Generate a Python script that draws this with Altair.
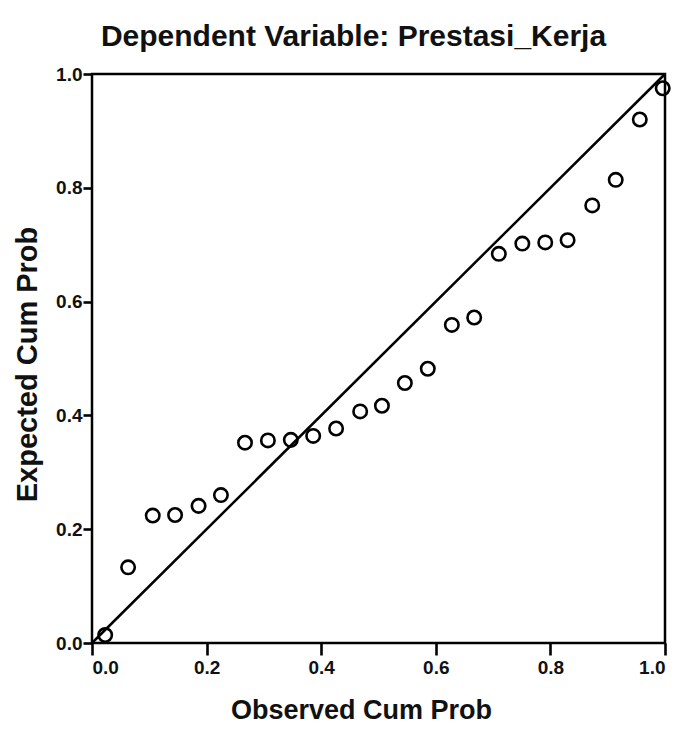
import altair as alt
import pandas as pd

observed = [0.023, 0.063, 0.106, 0.145, 0.186, 0.225, 0.267, 0.307, 0.347, 0.386,
            0.426, 0.468, 0.506, 0.546, 0.586, 0.628, 0.667, 0.710, 0.751, 0.791,
            0.830, 0.873, 0.914, 0.956, 0.996]
expected = [0.014, 0.133, 0.224, 0.225, 0.241, 0.260, 0.352, 0.356, 0.357, 0.364,
            0.377, 0.407, 0.417, 0.457, 0.482, 0.559, 0.572, 0.684, 0.702, 0.704,
            0.708, 0.769, 0.814, 0.920, 0.975]
ref_line = [0.0, 1.0]
ticks = [0.0, 0.2, 0.4, 0.6, 0.8, 1.0]

pts = pd.DataFrame({"obs": observed, "exp": expected})
diag = pd.DataFrame({"obs": ref_line, "exp": ref_line})

FONT = "Liberation Sans"

x_enc = alt.X("obs:Q", scale=alt.Scale(domain=[0, 1], nice=False, zero=False),
              axis=alt.Axis(title="Observed Cum Prob", values=ticks, format=".1f"))
y_enc = alt.Y("exp:Q", scale=alt.Scale(domain=[0, 1], nice=False, zero=False),
              axis=alt.Axis(title="Expected Cum Prob", values=ticks, format=".1f"))

line = alt.Chart(diag).mark_line(color="black", strokeWidth=2.5).encode(x=x_enc, y=y_enc)
points = alt.Chart(pts).mark_point(shape="circle", filled=False, color="black",
                                   size=180, strokeWidth=2.6, opacity=1).encode(x=x_enc, y=y_enc)

chart = (line + points).properties(
    width=573, height=569,
    autosize=alt.AutoSizeParams(type="none"),
    padding={"left": 84, "top": 66, "right": 11, "bottom": 95},
    title=alt.TitleParams("Dependent Variable: Prestasi_Kerja", font=FONT, fontSize=30,
                          fontWeight="bold", color="#111", anchor="middle", dx=-25,
                          offset=13),
    background="white",
).configure_view(
    stroke="black", strokeWidth=2.5
).configure_axis(
    grid=False, domain=False, tickColor="black", tickWidth=2.6,
    labelFont=FONT, labelFontSize=19, labelFontWeight="bold", labelColor="#111",
    titleFont=FONT, titleFontWeight="bold", titleColor="#111",
).configure_axisX(
    tickSize=12, labelPadding=3, titleFontSize=27, titlePadding=20, titleX=269,
).configure_axisY(
    tickSize=9, labelPadding=1, titleFontSize=29, titlePadding=13, titleY=290,
)

chart.save("out.html", embed_options={"renderer": "svg", "actions": False})
